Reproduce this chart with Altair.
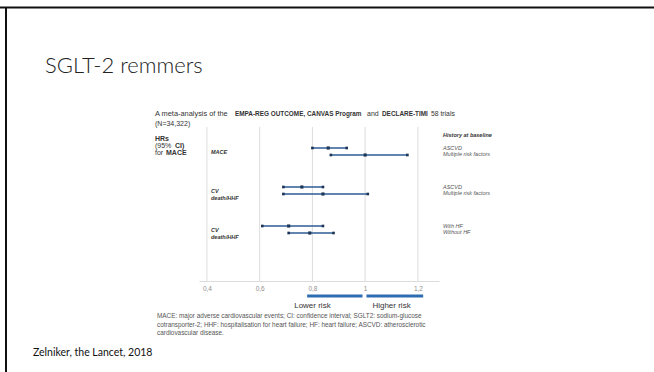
import altair as alt
import pandas as pd

# ---- data ---------------------------------------------------------------
groups = ["MACE", "CV death/HHF", "CV death/HHF by HF status"]
group_labels = ["MACE", "CV\ndeath/HHF", "CV\ndeath/HHF"]
subgroups = [["ASCVD", "Multiple risk factors"],
             ["ASCVD", "Multiple risk factors"],
             ["With HF", "Without HF"]]
hr = [[0.86, 1.00], [0.76, 0.84], [0.71, 0.79]]
ci_low = [[0.80, 0.87], [0.69, 0.69], [0.61, 0.71]]
ci_high = [[0.93, 1.16], [0.84, 1.01], [0.84, 0.88]]

x_ticks = [0.4, 0.6, 0.8, 1.0, 1.2]
risk_labels = ["Lower risk", "Higher risk"]
risk_start = [0.78, 1.005]
risk_end = [0.99, 1.22]
risk_label_at = [0.80, 1.10]

footnote = ("MACE: major adverse cardiovascular events; CI: confidence interval; SGLT2: sodium-glucose\n"
            "cotransporter-2; HHF: hospitalisation for heart failure; HF: heart failure; ASCVD: atherosclerotic\n"
            "cardiovascular disease.")

rows = []
for gi, g in enumerate(groups):
    for si in range(2):
        rows.append({"group": g, "sub": si, "label": subgroups[gi][si],
                     "hr": hr[gi][si], "lo": ci_low[gi][si], "hi": ci_high[gi][si]})
df = pd.DataFrame(rows)
df_groups = pd.DataFrame({"group": groups, "glabel": group_labels})
df_risk = pd.DataFrame({"label": risk_labels, "start": risk_start,
                        "end": risk_end, "at": risk_label_at})
df_ticks = pd.DataFrame({"tick": x_ticks})

# ---- layout / style -----------------------------------------------------
PLOT_W, PLOT_H = 240, 154
LEFT, TOP = 199, 127
W, H = 654, 372
FIG_FONT = "Liberation Sans"
SLIDE_FONT = "Lato"
LINE_BLUE = "#2c5d93"
DOT = "#1d3557"
GRID = "#d8d8d8"

x_scale = alt.Scale(domain=[0.37, 1.28], nice=False, zero=False)
x_axis = alt.Axis(values=x_ticks, format="~g", labelExpr="replace(datum.label, '.', ',')",
                  title=None, grid=False, domainColor=GRID, domainWidth=0.9, ticks=False,
                  labelFont=FIG_FONT, labelFontSize=6.5, labelColor="#8f8f8f", labelPadding=4)
y_scale = alt.Scale(type="point", domain=groups, range=[24.5, 102.5], padding=0)
Y = alt.Y("group:N", scale=y_scale, axis=None)

one = pd.DataFrame({"k": [0]})


def label(text, x, y, size=7, weight="normal", style="normal", font=FIG_FONT,
          color="#333333", baseline="alphabetic", align="left", line_height=None):
    kw = dict(align=align, baseline=baseline, font=font, fontSize=size,
              fontWeight=weight, fontStyle=style, color=color)
    if line_height is not None:
        kw.update(lineBreak="\n", lineHeight=line_height)
    return alt.Chart(one).mark_text(**kw).encode(
        x=alt.value(x - LEFT), y=alt.value(y - TOP), text=alt.value(text))


layers = []

# vertical reference lines at each tick
layers.append(alt.Chart(df_ticks).mark_rule(color=GRID, strokeWidth=0.9).encode(
    x=alt.X("tick:Q", scale=x_scale, axis=x_axis), y=alt.value(0), y2=alt.value(PLOT_H)))

# confidence intervals, one layer per sub-row
for si, off in enumerate([-3.5, 3.5]):
    base = alt.Chart(df).transform_filter(alt.datum.sub == si)
    layers.append(base.mark_rule(color=LINE_BLUE, strokeWidth=1.3, yOffset=off).encode(
        x=alt.X("lo:Q", scale=x_scale, axis=x_axis), x2="hi:Q", y=Y))
    for fld, sz in [("lo", 7), ("hi", 7), ("hr", 10)]:
        layers.append(base.mark_square(color=DOT, opacity=1, size=sz, yOffset=off).encode(
            x=alt.X(f"{fld}:Q", scale=x_scale, axis=x_axis), y=Y))
    # subgroup names on the right
    layers.append(base.mark_text(align="left", baseline="middle", font=FIG_FONT, fontSize=5.5,
                                 fontStyle="italic", color="#555555",
                                 yOffset=(-4 if si == 0 else 2)).encode(
        x=alt.value(443 - LEFT), y=Y, text="label:N"))

# outcome names inside the plot
layers.append(alt.Chart(df_groups).mark_text(
    align="left", baseline="middle", font=FIG_FONT, fontSize=5.5, fontWeight="bold",
    fontStyle="italic", color="#333333", lineBreak="\n", lineHeight=7.5).encode(
    x=alt.value(211 - LEFT), y=Y, text="glabel:N"))

# lower / higher risk bars
layers.append(alt.Chart(df_risk).mark_rule(color="#2f6db3", strokeWidth=3).encode(
    x=alt.X("start:Q", scale=x_scale, axis=x_axis), x2="end:Q", y=alt.value(296 - TOP)))
layers.append(alt.Chart(df_risk).mark_text(
    align="center", baseline="middle", font=FIG_FONT, fontSize=8, color="#333333").encode(
    x=alt.X("at:Q", scale=x_scale, axis=x_axis), y=alt.value(306 - TOP), text="label:N"))

# figure header and left caption
layers += [
    label("A meta-analysis of the", 155, 116, size=7.4),
    label("EMPA-REG OUTCOME, CANVAS Program", 235, 116, size=6.4, weight="bold"),
    label("and", 367, 116, size=7),
    label("DECLARE-TIMI", 382, 116, size=6.4, weight="bold"),
    label("58 trials", 431, 116, size=6.8),
    label("(N=34,322)", 155, 126, size=7),
    label("HRs", 155, 141, weight="bold"),
    label("(95%", 155, 148),
    label("CI)", 175, 148, weight="bold"),
    label("for", 155, 154.5),
    label("MACE", 166, 154.5, weight="bold"),
    label("History at baseline", 443, 137, size=5.5, weight="bold", style="italic"),
    label(footnote, 157, 318, size=6.4, color="#555555", line_height=8.5),
]

# slide title, footer and frame
layers += [
    label("SGLT-2 remmers", 45, 73, size=22, weight=300, font=SLIDE_FONT, color="#222222"),
    label("Zelniker, the Lancet, 2018", 33, 356, size=10.5, font=SLIDE_FONT, color="#111111"),
    alt.Chart(one).mark_rule(color="#111111", strokeWidth=2).encode(
        x=alt.value(-LEFT), x2=alt.value(W - LEFT), y=alt.value(7.5 - TOP)),
    alt.Chart(one).mark_rule(color="#111111", strokeWidth=2).encode(
        x=alt.value(6 - LEFT), y=alt.value(7.5 - TOP), y2=alt.value(H - TOP)),
]

chart = alt.layer(*layers).properties(
    width=PLOT_W, height=PLOT_H, background="white",
    padding={"left": LEFT, "top": TOP, "right": W - LEFT - PLOT_W, "bottom": H - TOP - PLOT_H},
    autosize=alt.AutoSizeParams(type="none"),
).configure_view(strokeWidth=0, strokeOpacity=0)

chart.save("out.html", embed_options={"renderer": "svg", "actions": False})
